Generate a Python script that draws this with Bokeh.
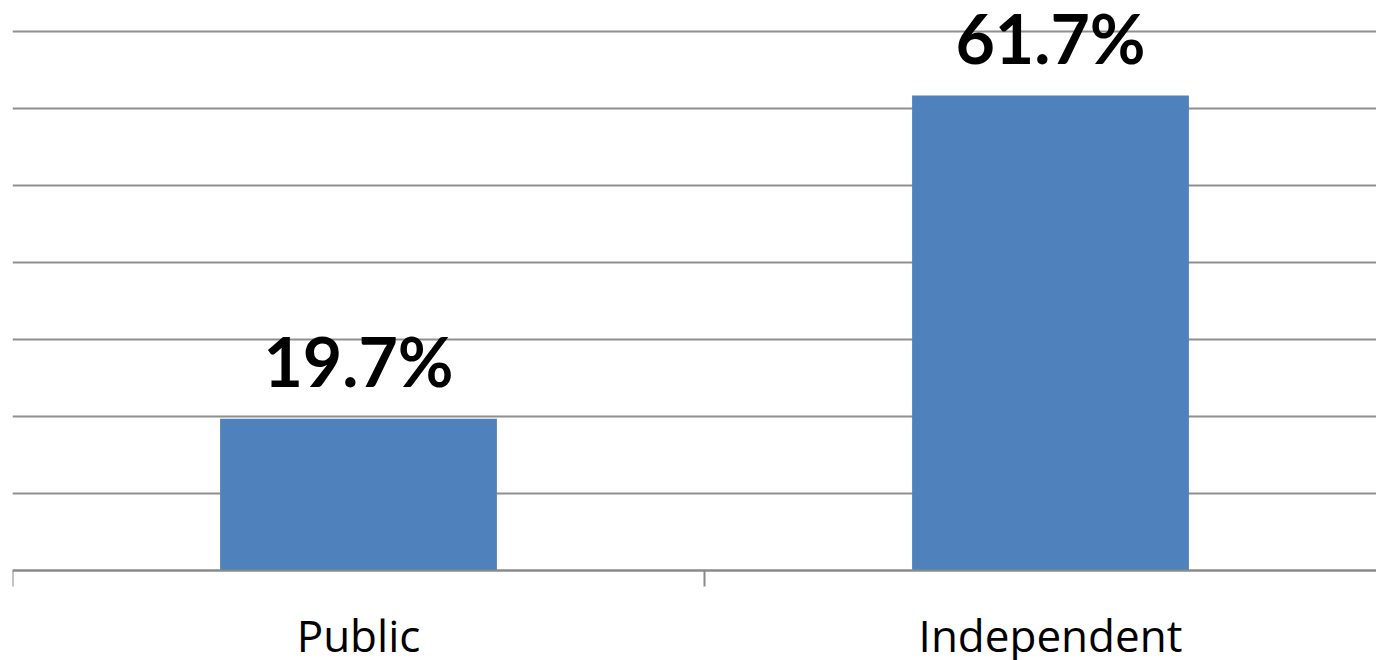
from bokeh.plotting import figure
from bokeh.models import ColumnDataSource, FixedTicker, LinearAxis
from bokeh.core.properties import value
from bokeh.embed import file_html
from bokeh.resources import INLINE

categories = ["Public", "Independent"]
percentages = [19.7, 61.7]
label_texts = ["19.7%", "61.7%"]
y_gridlines = [0, 10, 20, 30, 40, 50, 60, 70]

positions = [i + 0.5 for i in range(len(categories))]
boundaries = [float(i) for i in range(len(categories) + 1)]

source = ColumnDataSource(dict(x=positions, top=percentages, label=label_texts))

p = figure(width=1376, height=660, output_backend="svg", toolbar_location=None,
           x_range=(0, 1.9711), y_range=(-11.69, 74.03),
           x_axis_location=None, y_axis_location=None,
           min_border_left=12, min_border_right=0, min_border_top=0, min_border_bottom=0)
p.outline_line_color = None
p.background_fill_color = "white"
p.border_fill_color = "white"

p.vbar(x="x", top="top", bottom=0, width=0.4, source=source,
       fill_color="#4F81BD", line_color=None)

p.text(x="x", y="top", text="label", source=source, text_align="center",
       text_baseline="alphabetic", y_offset=-58,
       text_font=value("Lato"), text_font_style="bold", text_font_size="68px",
       text_color="black")

p.ygrid.ticker = FixedTicker(ticks=y_gridlines)
p.ygrid.grid_line_color = "#8f8f8f"
p.ygrid.grid_line_width = 2
p.xgrid.grid_line_color = None

xa = LinearAxis(fixed_location=0,
                ticker=FixedTicker(ticks=positions, minor_ticks=boundaries))
xa.major_label_overrides = {pos: cat for pos, cat in zip(positions, categories)}
xa.major_tick_line_color = None
xa.minor_tick_line_color = "#8a8a8a"
xa.minor_tick_line_width = 2
xa.minor_tick_out = 16
xa.minor_tick_in = 0
xa.axis_line_color = "#8a8a8a"
xa.axis_line_width = 2
xa.major_label_text_font = "Open Sans"
xa.major_label_text_font_size = "44px"
xa.major_label_text_color = "black"
xa.major_label_standoff = 19
p.add_layout(xa, "below")

open("out.html", "w").write(file_html(p, INLINE))
